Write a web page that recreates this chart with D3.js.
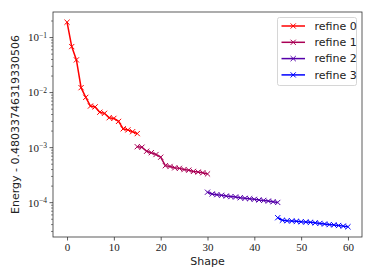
<!DOCTYPE html>
<html>
<head>
<meta charset="utf-8">
<script src="https://cdn.jsdelivr.net/npm/d3@7"></script>
<style>
  body { margin: 0; background: #fff; }
  svg { display: block; }
</style>
</head>
<body>
<div id="chart"></div>
<script>
// series data (x = shape index, y = energy offset)
const refine0X = [0, 1, 2, 3, 4, 5, 6, 7, 8, 9, 10, 11, 12, 13, 14, 15];
const refine0Y = [0.19, 0.0686, 0.0393, 0.0123, 0.0082, 0.0057, 0.0055, 0.0044, 0.0042, 0.0035, 0.0034, 0.0030, 0.0022, 0.0021, 0.00195, 0.0018];

const refine1X = [15, 16, 17, 18, 19, 20, 21, 22, 23, 24, 25, 26, 27, 28, 29, 30];
const refine1Y = [0.00104, 0.00102, 0.00086, 0.00081, 0.00075, 0.00067, 0.00047, 0.000455, 0.00043, 0.00042, 0.00040, 0.00039, 0.00037, 0.00036, 0.00035, 0.000333];

const refine2X = [30, 31, 32, 33, 34, 35, 36, 37, 38, 39, 40, 41, 42, 43, 44, 45];
const refine2Y = [0.000155, 0.000144, 0.000140, 0.000136, 0.000132, 0.000129, 0.000127, 0.000123, 0.000120, 0.000118, 0.000115, 0.000112, 0.000110, 0.000107, 0.000104, 0.000101];

const refine3X = [45, 46, 47, 48, 49, 50, 51, 52, 53, 54, 55, 56, 57, 58, 59, 60];
const refine3Y = [0.0000533, 0.0000480, 0.0000470, 0.0000465, 0.0000460, 0.0000450, 0.0000445, 0.0000440, 0.0000430, 0.0000420, 0.0000410, 0.0000400, 0.0000395, 0.0000385, 0.0000375, 0.0000365];

const seriesNames = ['refine 0', 'refine 1', 'refine 2', 'refine 3'];
const seriesColors = ['#ff0000', '#aa0055', '#5500aa', '#0000ff'];

const xTicks = [0, 10, 20, 30, 40, 50, 60];
const yTickExps = [-1, -2, -3, -4];

const xLabel = 'Shape';
const yLabel = 'Energy - 0.48033746319330506';

const series = seriesNames.map((name, i) => {
  const xs = [refine0X, refine1X, refine2X, refine3X][i];
  const ys = [refine0Y, refine1Y, refine2Y, refine3Y][i];
  return { name: name, color: seriesColors[i], values: xs.map((x, j) => ({ x: x, y: ys[j] })) };
});

const W = 374, H = 280;
const margin = { top: 12, right: 12, bottom: 43, left: 53 };
const width = W - margin.left - margin.right;
const height = H - margin.top - margin.bottom;

const svg = d3.select('#chart').append('svg')
  .attr('width', W)
  .attr('height', H);

const g = svg.append('g')
  .attr('transform', 'translate(' + margin.left + ',' + margin.top + ')');

// matplotlib-like 5% margins
const x = d3.scaleLinear().domain([-3, 63]).range([0, width]);
const allY = series.flatMap(s => s.values.map(d => d.y));
const lo = Math.log10(d3.min(allY)), hi = Math.log10(d3.max(allY));
const pad = (hi - lo) * 0.05;
const y = d3.scaleLog().domain([Math.pow(10, lo - pad), Math.pow(10, hi + pad)]).range([height, 0]);

const tickFont = '"Liberation Serif", "DejaVu Serif", serif';
const sansFont = '"DejaVu Sans", "Liberation Sans", sans-serif';

// x axis
const xAxis = g.append('g')
  .attr('transform', 'translate(0,' + height + ')')
  .call(d3.axisBottom(x).tickValues(xTicks).tickSize(3.5).tickPadding(3));
xAxis.select('.domain').remove();
xAxis.selectAll('.tick line').attr('stroke', '#333').attr('stroke-width', 0.8);
xAxis.selectAll('.tick text')
  .attr('font-family', tickFont).attr('font-size', 11).attr('fill', '#222');

// y axis: major ticks at decades, minor ticks between
const yMajor = yTickExps.map(e => Math.pow(10, e));
const yMinor = [];
d3.range(-5, 0).forEach(e => {
  for (let k = 2; k < 10; k++) {
    const v = k * Math.pow(10, e);
    if (v >= y.domain()[0] && v <= y.domain()[1]) yMinor.push(v);
  }
});
const yAxis = g.append('g');
yAxis.selectAll('line.minor').data(yMinor).enter().append('line')
  .attr('class', 'minor')
  .attr('x1', 0).attr('x2', -2)
  .attr('y1', d => y(d)).attr('y2', d => y(d))
  .attr('stroke', '#333').attr('stroke-width', 0.6);
const yMaj = yAxis.selectAll('g.major').data(yTickExps).enter().append('g')
  .attr('class', 'major')
  .attr('transform', d => 'translate(0,' + y(Math.pow(10, d)) + ')');
yMaj.append('line')
  .attr('x1', 0).attr('x2', -3.5)
  .attr('stroke', '#333').attr('stroke-width', 0.8);
const lbl = yMaj.append('text')
  .attr('x', -6).attr('dy', '0.35em')
  .attr('text-anchor', 'end')
  .attr('font-family', tickFont).attr('font-size', 11).attr('fill', '#222');
lbl.append('tspan').text('10');
lbl.append('tspan').attr('dy', '-0.45em').attr('font-size', 7.5).text(d => '\u2212' + Math.abs(d));

// frame
g.append('rect')
  .attr('width', width).attr('height', height)
  .attr('fill', 'none').attr('stroke', '#333').attr('stroke-width', 0.8);

// lines and x markers
const line = d3.line().x(d => x(d.x)).y(d => y(d.y));
const ms = 2.6;
const crossPath = (cx, cy) => 'M' + (cx - ms) + ',' + (cy - ms) + 'L' + (cx + ms) + ',' + (cy + ms) +
  'M' + (cx - ms) + ',' + (cy + ms) + 'L' + (cx + ms) + ',' + (cy - ms);

series.forEach(s => {
  g.append('path')
    .datum(s.values)
    .attr('d', line)
    .attr('fill', 'none')
    .attr('stroke', s.color)
    .attr('stroke-width', 1.5);
  g.selectAll(null).data(s.values).enter().append('path')
    .attr('d', d => crossPath(x(d.x), y(d.y)))
    .attr('stroke', s.color)
    .attr('stroke-width', 1);
});

// axis labels
svg.append('text')
  .attr('x', margin.left + width / 2).attr('y', 265)
  .attr('text-anchor', 'middle')
  .attr('font-family', sansFont).attr('font-size', 11).attr('fill', '#222')
  .text(xLabel);
svg.append('text')
  .attr('transform', 'translate(19,' + (margin.top + height / 2) + ') rotate(-90)')
  .attr('text-anchor', 'middle')
  .attr('font-family', sansFont).attr('font-size', 11).attr('fill', '#222')
  .text(yLabel);

// legend
const legend = svg.append('g').attr('transform', 'translate(277.5,17.5)');
legend.append('rect')
  .attr('width', 79).attr('height', 68).attr('rx', 2)
  .attr('fill', '#fff').attr('fill-opacity', 0.8)
  .attr('stroke', '#ccc').attr('stroke-width', 0.8);
const item = legend.selectAll('g.item').data(series).enter().append('g')
  .attr('class', 'item')
  .attr('transform', (d, i) => 'translate(0,' + (8.5 + i * 16.3) + ')');
item.append('line')
  .attr('x1', 4).attr('x2', 27.5)
  .attr('stroke', d => d.color).attr('stroke-width', 1.5);
item.append('path')
  .attr('d', crossPath(15.7, 0))
  .attr('stroke', d => d.color).attr('stroke-width', 1);
item.append('text')
  .attr('x', 37).attr('dy', '0.35em')
  .attr('font-family', sansFont).attr('font-size', 11).attr('fill', '#222')
  .text(d => d.name);
</script>
</body>
</html>
